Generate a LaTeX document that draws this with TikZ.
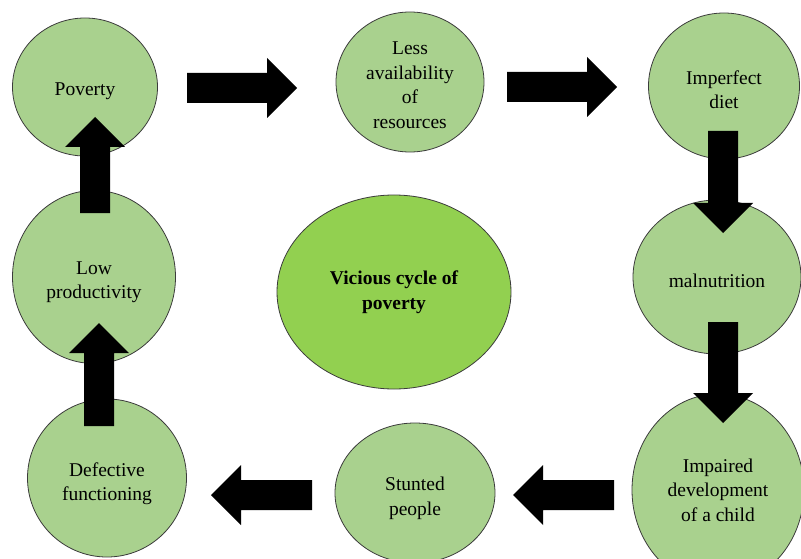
\documentclass[tikz,border=0pt]{standalone}
\usepackage{fontspec}
\setmainfont{Liberation Serif}
\usetikzlibrary{shapes.geometric,calc}
\definecolor{leaf}{HTML}{A9D18E}
\definecolor{core}{HTML}{92D050}
\definecolor{rim}{HTML}{3B3B3B}
% block arrow from #1 to tip #2
\newcommand{\blockarrow}[2]{%
  \coordinate (hb) at ($(#2)!30pt!(#1)$);
  \fill [black] ($(#1)!15pt!90:(#2)$) -- ($(hb)!15pt!-90:(#1)$) -- ($(hb)!30pt!-90:(#1)$)
    -- (#2) -- ($(hb)!30pt!90:(#1)$) -- ($(hb)!15pt!90:(#1)$) -- ($(#1)!15pt!-90:(#2)$) -- cycle;}
% taller first line, pushes the text down a little
\newcommand{\lift}[1][21pt]{\rule{0pt}{#1}}
\begin{document}
\begin{tikzpicture}[x=1pt,y=-1pt,
    bubble/.style={ellipse,draw=rim,line width=0.8pt,fill=leaf,inner sep=0pt,align=center,
      font=\fontsize{19.5}{24.5}\selectfont}]
    \useasboundingbox (0,0) rectangle (801,559);
    \node [bubble,minimum width=145pt,minimum height=138pt] (pov) at (85,87) {\lift Poverty};
    \node [bubble,minimum width=148pt,minimum height=140pt] (less) at (410,82) {\lift[19pt]Less\\availability\\of\\resources};
    \node [bubble,minimum width=151pt,minimum height=146pt] (diet) at (724,86) {\lift Imperfect\\diet};
    \node [bubble,minimum width=168pt,minimum height=154pt] (maln) at (717,277) {\lift malnutrition};
    \node [bubble,minimum width=172pt,minimum height=192pt] (impd) at (718,490) {Impaired\\development\\of a child};
    \node [bubble,minimum width=160pt,minimum height=140pt] (stun) at (415,493) {\lift[24pt]Stunted\\people};
    \node [bubble,minimum width=159pt,minimum height=158pt] (defc) at (107,478) {\lift[25pt]Defective\\functioning};
    \node [bubble,minimum width=163pt,minimum height=173pt] (lowp) at (94,277) {\lift[23pt]Low\\productivity};
    \node [bubble,fill=core,minimum width=234pt,minimum height=194pt,font=\fontsize{19.5}{24.5}\selectfont\bfseries] (vic) at (394,292) {Vicious cycle of\\poverty};
    \coordinate (pov-out) at (187,88);
    \coordinate (less-in) at (297,88);
    \coordinate (less-out) at (507,87);
    \coordinate (diet-in) at (617,87);
    \coordinate (diet-out) at (723,131);
    \coordinate (maln-in) at (723,233);
    \coordinate (maln-out) at (723,322);
    \coordinate (impd-in) at (723,423);
    \coordinate (impd-out) at (614,495);
    \coordinate (stun-in) at (513,495);
    \coordinate (stun-out) at (312,495);
    \coordinate (defc-in) at (211,495);
    \coordinate (defc-out) at (99,426);
    \coordinate (lowp-in) at (99,323);
    \coordinate (lowp-out) at (95,213);
    \coordinate (pov-in) at (95,117);
    \blockarrow{pov-out}{less-in}
    \blockarrow{less-out}{diet-in}
    \blockarrow{diet-out}{maln-in}
    \blockarrow{maln-out}{impd-in}
    \blockarrow{impd-out}{stun-in}
    \blockarrow{stun-out}{defc-in}
    \blockarrow{defc-out}{lowp-in}
    \blockarrow{lowp-out}{pov-in}
\end{tikzpicture}
\end{document}
